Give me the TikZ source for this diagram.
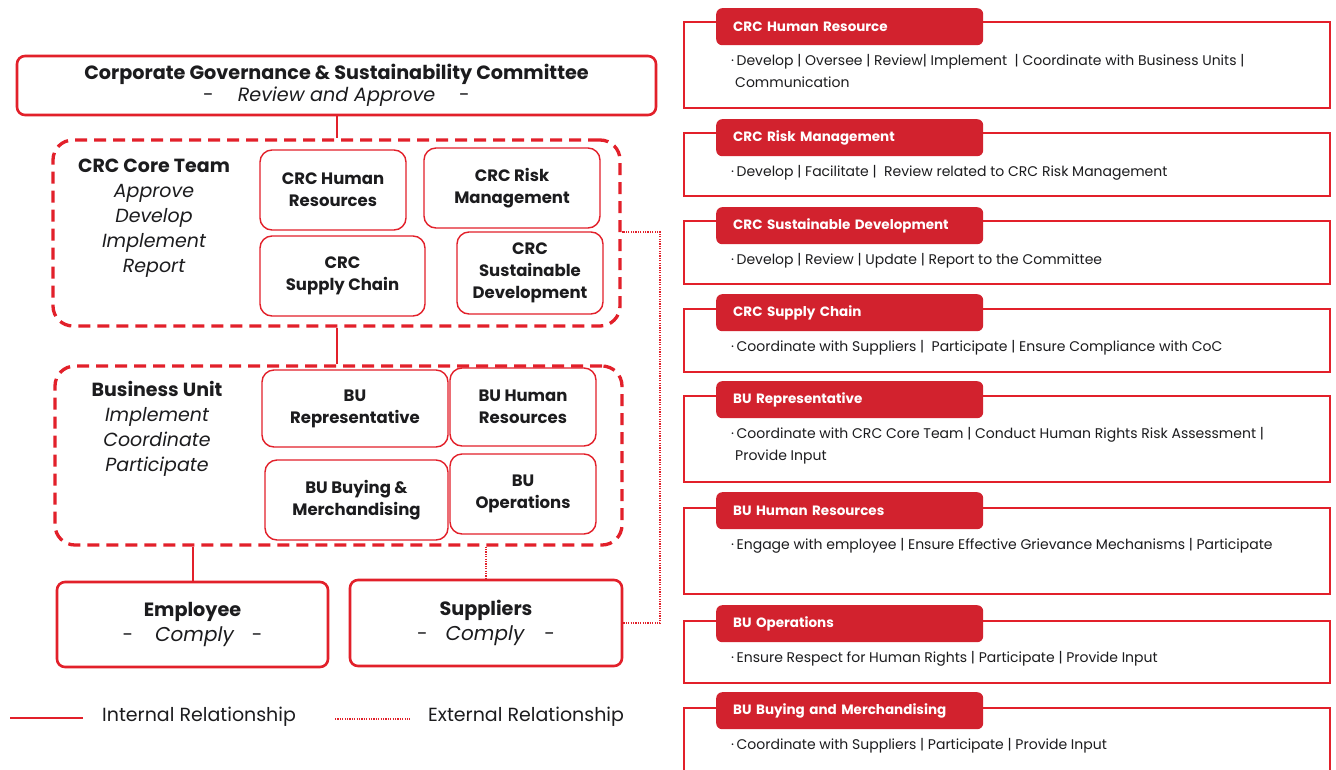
\documentclass[tikz,border=0pt]{standalone}
\usepackage{fontspec}
\setmainfont{Poppins}
\usetikzlibrary{calc}
\definecolor{cred}{RGB}{226,32,42}
\definecolor{tabred}{RGB}{210,34,46}
\definecolor{ink}{RGB}{28,28,30}

% Stacked lines whose baseline is that of the first line
\newcommand\rolelines[2]{\vtop{\hbox{#1}\hbox{#2}}}
% Bullet that opens a description
\newcommand\rolebullet{·\hspace{2.5pt}}

% One role panel on the right: tab with title, open frame, description
% #1 name, #2 tab top, #3 frame top, #4 frame bottom, #5 title, #6 description
\newcommand\rolepanel[6]{%
  \node[roletab, anchor=north west] (#1tab) at (716,#2) {#5};
  \draw[panelline] (#1tab.west |- 0,#3) -- (684,#3) -- (684,#4) -- (1330,#4)
        -- (1330,#3) -- (#1tab.east |- 0,#3);
  \node[roletext, anchor=base west] (#1text) at (731,{#2+57}) {#6};
}

\begin{document}
\begin{tikzpicture}[x=1pt,y=-1pt,
  every node/.style={text=ink, inner sep=0pt},
  govbox/.style={draw=cred, line width=2.6pt, rounded corners=8pt, fill=white,
    align=center, font=\fontsize{19.2}{22}\selectfont},
  groupbox/.style={draw=cred, line width=3.3pt, dash pattern=on 12pt off 7pt,
    rounded corners=20pt},
  grouplabel/.style={align=center, font=\fontsize{19}{25}\selectfont},
  unitbox/.style={draw=cred, line width=1.4pt, rounded corners=12pt, align=center,
    font=\fontsize{16.5}{22}\selectfont\bfseries},
  internal/.style={draw=cred, line width=2pt},
  external/.style={draw=cred, line width=1.7pt, dash pattern=on 1.2pt off 1.2pt},
  roletab/.style={fill=tabred, rounded corners=6pt, text=white, text width=233pt,
    inner xsep=17pt, minimum height=37pt, align=left,
    font=\fontsize{13.5}{16}\selectfont\bfseries},
  panelline/.style={draw=cred, line width=1.3pt},
  roletext/.style={font=\fontsize{14}{22}\selectfont},
  legendtext/.style={anchor=west, font=\fontsize{19}{22}\selectfont}
]
\useasboundingbox (0,0) rectangle (1336,769);
\fill[white] (0,0) rectangle (1336,769);

% Committee at the top
\node[govbox, minimum width=639pt, minimum height=59pt] (cgsc) at (336.5,85.5)
  {{\bfseries Corporate Governance \& Sustainability Committee}\\
   -\hspace{24pt}{\itshape Review and Approve}\hspace{24pt}-};

% CRC core team group
\node[groupbox, minimum width=567pt, minimum height=186pt] (core) at (336.5,233) {};
\node[grouplabel] (coreLbl) at (154,218.5)
  {{\bfseries CRC Core Team}\\\itshape Approve\\\itshape Develop\\\itshape Implement\\\itshape Report};
\node[unitbox, minimum width=146pt, minimum height=80pt] (crcHR) at (333,190) {CRC Human\\Resources};
\node[unitbox, minimum width=176pt, minimum height=80pt] (crcRisk) at (512,188) {CRC Risk\\Management};
\node[unitbox, minimum width=165pt, minimum height=80pt] (crcSupply) at (342.5,276) {CRC\\Supply Chain};
\node[unitbox, minimum width=146pt, minimum height=82pt] (crcSust) at (530,273) {CRC\\Sustainable\\Development};

% Business unit group
\node[groupbox, minimum width=567pt, minimum height=179pt] (bu) at (338.5,455.5) {};
\node[grouplabel] (buLbl) at (157,429)
  {{\bfseries Business Unit}\\\itshape Implement\\\itshape Coordinate\\\itshape Participate};
\node[unitbox, minimum width=186pt, minimum height=77pt] (buRep) at (355,408.5) {BU\\Representative};
\node[unitbox, minimum width=146pt, minimum height=78pt] (buHR) at (523,407) {BU Human\\Resources};
\node[unitbox, minimum width=183pt, minimum height=80pt] (buBuy) at (356.5,500) {BU Buying \&\\Merchandising};
\node[unitbox, minimum width=146pt, minimum height=80pt] (buOps) at (523,494) {BU\\Operations};

% Employees and suppliers
\node[govbox, font=\fontsize{19.2}{25}\selectfont, minimum width=271pt, minimum height=85pt]
  (employee) at (192.5,624.5)
  {{\bfseries Employee}\\-\hspace{22pt}{\fontsize{20}{25}\selectfont\itshape Comply}\hspace{18pt}-};
\node[govbox, font=\fontsize{19.2}{25}\selectfont, minimum width=272pt, minimum height=86pt]
  (suppliers) at (486,623)
  {{\bfseries Suppliers}\\-\hspace{18pt}{\fontsize{20}{25}\selectfont\itshape Comply}\hspace{20pt}-};

% Relationships
\draw[internal] (cgsc.south) -- (core.north);
\draw[internal] (core.south) -- (core.south |- bu.north);
\draw[internal] (employee.north |- bu.south) -- (employee.north);
\draw[external] (suppliers.north |- bu.south) -- (suppliers.north);
\coordinate (extTurn) at (660,232);
\draw[external] (suppliers.east) -| (extTurn) -- (core.east |- extTurn);

% Legend
\coordinate (intA) at (10,718);
\coordinate (intB) at (83,718);
\draw[internal] (intA) -- (intB);
\node[legendtext] (intLbl) at (102,717) {Internal Relationship};
\coordinate (extA) at (335,719);
\coordinate (extB) at (410,719);
\draw[external] (extA) -- (extB);
\node[legendtext] (extLbl) at (428,717) {External Relationship};

% Role descriptions
\rolepanel{p1}{8}{22}{108}{CRC Human Resource}
  {\rolelines{\rolebullet Develop | Oversee | Review| Implement \ | Coordinate with Business Units |}{\hspace{4pt}Communication}}
\rolepanel{p2}{119}{133}{196}{CRC Risk Management}
  {\rolebullet Develop | Facilitate | \ Review related to CRC Risk Management}
\rolepanel{p3}{207}{221}{284}{CRC Sustainable Development}
  {\rolebullet Develop | Review | Update | Report to the Committee}
\rolepanel{p4}{294}{309}{372}{CRC Supply Chain}
  {\rolebullet Coordinate with Suppliers | \ Participate | Ensure Compliance with CoC}
\rolepanel{p5}{381}{396}{482}{BU Representative}
  {\rolelines{\rolebullet Coordinate with CRC Core Team | Conduct Human Rights Risk Assessment |}{\hspace{4pt}Provide Input}}
\rolepanel{p6}{492}{508}{594}{BU Human Resources}
  {\rolebullet Engage with employee | Ensure Effective Grievance Mechanisms | Participate}
\rolepanel{p7}{605}{621}{683}{BU Operations}
  {\rolebullet Ensure Respect for Human Rights | Participate | Provide Input}
\rolepanel{p8}{692}{708}{780}{BU Buying and Merchandising}
  {\rolebullet Coordinate with Suppliers | Participate | Provide Input}
\end{tikzpicture}
\end{document}
